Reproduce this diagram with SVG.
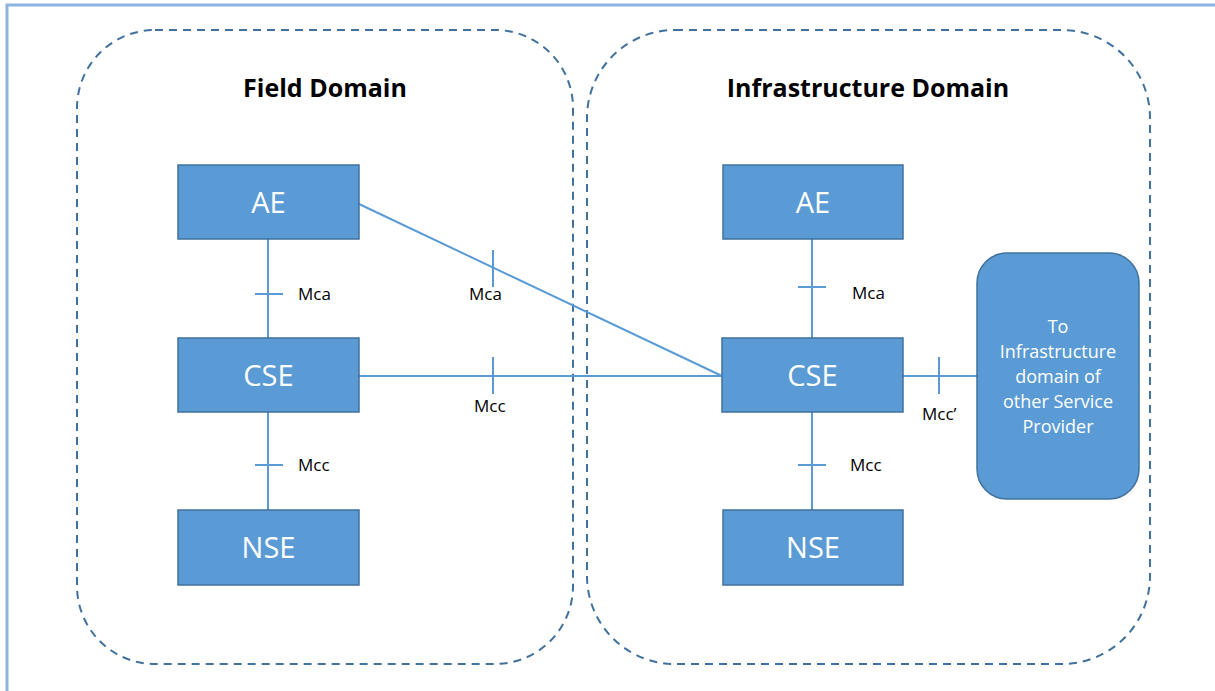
<svg xmlns="http://www.w3.org/2000/svg" width="1215" height="691" viewBox="0 0 1215 691">
  <style>
    .frame { fill: none; stroke: #8db3e2; stroke-width: 3; }
    .domain { fill: none; stroke: #41719c; stroke-width: 2; stroke-dasharray: 8 6; }
    .title { font-family: "Open Sans", "Liberation Sans", sans-serif; font-weight: bold; font-size: 25px; fill: #000; text-anchor: middle; }
    .box { fill: #5b9bd5; stroke: #41719c; stroke-width: 1.5; }
    .boxlabel { font-family: "Open Sans", "Liberation Sans", sans-serif; font-size: 29px; fill: #fff; text-anchor: middle; }
    .smalllabel { font-family: "Open Sans", "Liberation Sans", sans-serif; font-size: 18px; fill: #fff; text-anchor: middle; }
    .link { fill: none; stroke: #5b9bd5; stroke-width: 2; }
    .ref { font-family: "Open Sans", "Liberation Sans", sans-serif; font-size: 17px; fill: #000; }
  </style>

  <rect x="0" y="0" width="1215" height="691" fill="#fff"/>
  <!-- outer frame -->
  <rect class="frame" x="7" y="5" width="1240" height="720"/>

  <!-- domains -->
  <g id="field-domain">
    <rect class="domain" x="77" y="30" width="496" height="634" rx="78" ry="78"/>
    <text class="title" x="325" y="97">Field Domain</text>
  </g>
  <g id="infrastructure-domain">
    <rect class="domain" x="587" y="30" width="563" height="634" rx="88" ry="88"/>
    <text class="title" x="868" y="97">Infrastructure Domain</text>
  </g>

  <!-- connectors and reference points -->
  <g id="connectors">
    <!-- field AE - CSE -->
    <line class="link" x1="268" y1="239" x2="268" y2="338"/>
    <line class="link" x1="255" y1="294" x2="283" y2="294"/>
    <text class="ref" x="298" y="300">Mca</text>
    <!-- field CSE - NSE -->
    <line class="link" x1="268" y1="412" x2="268" y2="510"/>
    <line class="link" x1="255" y1="465" x2="283" y2="465"/>
    <text class="ref" x="298" y="471">Mcc</text>
    <!-- field AE - infrastructure CSE -->
    <line class="link" x1="359" y1="204" x2="722" y2="376"/>
    <line class="link" x1="493" y1="250" x2="493" y2="287"/>
    <text class="ref" x="469" y="300">Mca</text>
    <!-- field CSE - infrastructure CSE -->
    <line class="link" x1="359" y1="376" x2="722" y2="376"/>
    <line class="link" x1="493" y1="357" x2="493" y2="394"/>
    <text class="ref" x="474" y="412">Mcc</text>
    <!-- infrastructure AE - CSE -->
    <line class="link" x1="812" y1="239" x2="812" y2="338"/>
    <line class="link" x1="798" y1="287" x2="826" y2="287"/>
    <text class="ref" x="852" y="299">Mca</text>
    <!-- infrastructure CSE - NSE -->
    <line class="link" x1="812" y1="412" x2="812" y2="510"/>
    <line class="link" x1="798" y1="465" x2="826" y2="465"/>
    <text class="ref" x="850" y="471">Mcc</text>
    <!-- infrastructure CSE - other provider -->
    <line class="link" x1="903" y1="376" x2="977" y2="376"/>
    <line class="link" x1="939" y1="357" x2="939" y2="394"/>
    <text class="ref" x="922" y="420">Mcc’</text>
  </g>

  <!-- field domain nodes -->
  <g id="field-ae">
    <rect class="box" x="178" y="165" width="181" height="74"/>
    <text class="boxlabel" x="268.5" y="213">AE</text>
  </g>
  <g id="field-cse">
    <rect class="box" x="178" y="338" width="181" height="74"/>
    <text class="boxlabel" x="268.5" y="386">CSE</text>
  </g>
  <g id="field-nse">
    <rect class="box" x="178" y="510" width="181" height="75"/>
    <text class="boxlabel" x="268.5" y="558">NSE</text>
  </g>

  <!-- infrastructure domain nodes -->
  <g id="infra-ae">
    <rect class="box" x="723" y="165" width="180" height="74"/>
    <text class="boxlabel" x="813" y="213">AE</text>
  </g>
  <g id="infra-cse">
    <rect class="box" x="722" y="338" width="181" height="74"/>
    <text class="boxlabel" x="812.5" y="386">CSE</text>
  </g>
  <g id="infra-nse">
    <rect class="box" x="723" y="510" width="180" height="75"/>
    <text class="boxlabel" x="813" y="558">NSE</text>
  </g>

  <!-- other service provider -->
  <g id="other-provider">
    <rect class="box" x="977" y="253" width="162" height="246" rx="30" ry="30"/>
    <text class="smalllabel" x="1058" y="333">To</text>
    <text class="smalllabel" x="1058" y="358">Infrastructure</text>
    <text class="smalllabel" x="1058" y="383">domain of</text>
    <text class="smalllabel" x="1058" y="408">other Service</text>
    <text class="smalllabel" x="1058" y="433">Provider</text>
  </g>
</svg>
